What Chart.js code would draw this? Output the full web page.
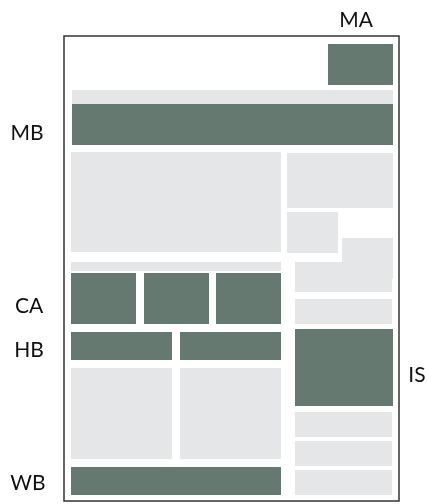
<!DOCTYPE html>
<html>
<head>
<meta charset="utf-8">
<script src="https://cdn.jsdelivr.net/npm/chart.js@4"></script>
<style>
  html, body { margin: 0; padding: 0; background: #fff; }
  #wrap { width: 428px; height: 504px; }
</style>
</head>
<body>
<div id="wrap"><canvas id="layout"></canvas></div>
<script>
// blocks of the page layout, in layout units (0..428 across, 0..504 down)
const blockNames = ["MA", "band", "MB", "main", "side1", "side2", "side3", "side4",
  "strip", "CA1", "CA2", "CA3", "side5", "HB1", "HB2", "IS", "col1", "col2",
  "side6", "side7", "side8", "WB"];
const blockX0 = [328, 72, 72, 71, 287, 287, 342, 295, 71, 71, 144, 216, 295, 71, 180, 295, 71, 180, 295, 295, 295, 71];
const blockX1 = [393, 393, 393, 281, 393, 338, 393, 392, 281, 136, 209, 281, 392, 172, 281, 393, 172, 281, 392, 392, 392, 281];
const blockY0 = [44, 90, 104, 152, 153, 212, 238, 262, 262, 273, 273, 273, 299, 332, 332, 329, 368, 368, 412, 441, 470, 467];
const blockY1 = [85, 104, 145, 252, 208, 253, 279, 292, 271, 324, 324, 324, 324, 360, 360, 406, 459, 459, 437, 466, 495, 495];
const blockHighlight = [1, 0, 1, 0, 0, 0, 0, 0, 0, 1, 1, 1, 0, 1, 1, 1, 0, 0, 0, 0, 0, 1];

// outer page frame
const frameX = [64, 399];
const frameY = [36, 501];

// callout labels
const labelText = ["MA", "MB", "CA", "HB", "IS", "WB"];
const labelX = [356, 27, 29, 29, 417, 28];
const labelY = [20, 133, 306, 350, 375, 483];

const GREEN = "#667970";
const GREY = "#e5e6e8";

const layoutPlugin = {
  id: "layoutBlocks",
  afterDatasetsDraw(chart) {
    const ctx = chart.ctx;
    const xs = chart.scales.x;
    const ys = chart.scales.y;
    ctx.save();
    for (let i = 0; i < blockNames.length; i++) {
      const x0 = xs.getPixelForValue(blockX0[i]);
      const x1 = xs.getPixelForValue(blockX1[i]);
      const y0 = ys.getPixelForValue(blockY0[i]);
      const y1 = ys.getPixelForValue(blockY1[i]);
      ctx.fillStyle = blockHighlight[i] ? GREEN : GREY;
      ctx.fillRect(x0, y0, x1 - x0, y1 - y0);
    }
    // frame
    const fx0 = xs.getPixelForValue(frameX[0]);
    const fx1 = xs.getPixelForValue(frameX[1]);
    const fy0 = ys.getPixelForValue(frameY[0]);
    const fy1 = ys.getPixelForValue(frameY[1]);
    ctx.strokeStyle = "#333333";
    ctx.lineWidth = 1.5;
    ctx.strokeRect(fx0, fy0, fx1 - fx0, fy1 - fy0);
    // labels
    ctx.fillStyle = "#111111";
    ctx.font = "400 21px Lato";
    ctx.textAlign = "center";
    ctx.textBaseline = "middle";
    for (let i = 0; i < labelText.length; i++) {
      ctx.fillText(labelText[i], xs.getPixelForValue(labelX[i]), ys.getPixelForValue(labelY[i]));
    }
    ctx.restore();
  }
};

new Chart(document.getElementById("layout"), {
  type: "scatter",
  data: {
    datasets: [{
      data: blockNames.map((n, i) => ({ x: (blockX0[i] + blockX1[i]) / 2, y: (blockY0[i] + blockY1[i]) / 2 })),
      pointRadius: 0,
      pointHoverRadius: 0
    }]
  },
  options: {
    responsive: true,
    maintainAspectRatio: false,
    animation: false,
    layout: { padding: 0 },
    plugins: { legend: { display: false }, tooltip: { enabled: false } },
    scales: {
      x: { type: "linear", min: 0, max: 428, display: false },
      y: { type: "linear", min: 0, max: 504, reverse: true, display: false }
    }
  },
  plugins: [layoutPlugin]
});
</script>
</body>
</html>
